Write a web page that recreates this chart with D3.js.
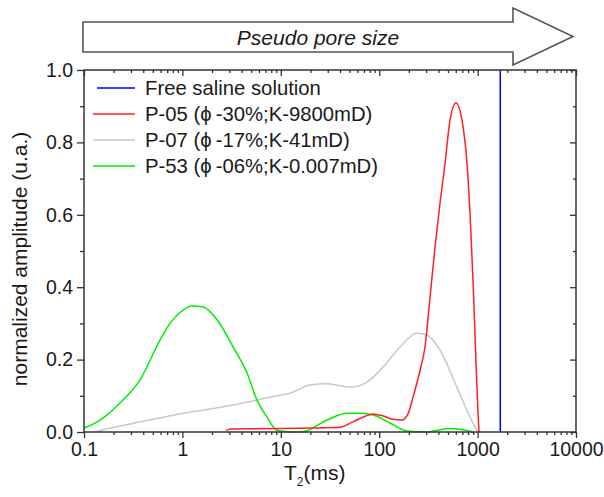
<!DOCTYPE html>
<html>
<head>
<meta charset="utf-8">
<script src="https://cdn.jsdelivr.net/npm/d3@7"></script>
<style>
  html, body { margin: 0; padding: 0; background: #fff; }
  svg { display: block; font-family: "Liberation Sans", Arial, sans-serif; }
</style>
</head>
<body>
<svg id="chart" width="604" height="497"></svg>
<script>
// ---- data ----
const seriesNames = ["Free saline solution", "P-05 (\u03D5\u2009-30%;K-9800mD)", "P-07 (\u03D5\u2009-17%;K-41mD)", "P-53 (\u03D5\u2009-06%;K-0.007mD)"];
const seriesColors = ["#0000ff", "#ff2020", "#c8c8c8", "#00ee00"];

const freeT = [1700, 1700];
const freeA = [0, 1];

const p05T = [2.8, 3.05, 5, 10, 20, 39.8, 54, 70, 86.5, 110, 138, 170, 196, 220, 260, 292, 328, 369, 415, 467, 525, 603, 693, 780, 837, 898, 964, 1010, 1033];
const p05A = [0.004, 0.008, 0.009, 0.01, 0.011, 0.013, 0.028, 0.042, 0.05, 0.044, 0.035, 0.033, 0.05, 0.095, 0.17, 0.235, 0.37, 0.51, 0.632, 0.743, 0.862, 0.909, 0.862, 0.743, 0.605, 0.42, 0.19, 0.052, 0];

const p07T = [0.136, 0.946, 3.05, 9.15, 12.4, 19.8, 29.5, 40, 50.5, 75.2, 110, 163, 242, 306, 415, 616, 837, 1010];
const p07A = [0.003, 0.05, 0.073, 0.1, 0.107, 0.13, 0.133, 0.128, 0.124, 0.138, 0.18, 0.235, 0.273, 0.268, 0.226, 0.124, 0.041, 0.0];

const p53T = [0.1, 0.146, 0.232, 0.371, 0.592, 0.748, 0.946, 1.25, 1.62, 2.25, 3.27, 4.54, 5.73, 7.24, 9.15, 13, 16.8, 29.5, 47, 63.8, 86.5, 129, 190, 300, 415, 512, 711, 900];
const p53A = [0.011, 0.033, 0.08, 0.144, 0.254, 0.30, 0.33, 0.348, 0.345, 0.31, 0.235, 0.163, 0.088, 0.041, 0.005, 0, 0.001, 0.033, 0.052, 0.052, 0.047, 0.025, 0.003, 0, 0.006, 0.01, 0.006, 0];

const xTickValues = [0.1, 1, 10, 100, 1000, 10000];
const xTickLabels = ["0.1", "1", "10", "100", "1000", "10000"];
const yTickValues = [0, 0.2, 0.4, 0.6, 0.8, 1.0];
const yTickLabels = ["0.0", "0.2", "0.4", "0.6", "0.8", "1.0"];
const yMinorValues = [0.1, 0.3, 0.5, 0.7, 0.9];

// ---- layout ----
const L = 84, R = 576, T = 70, B = 432;
const svg = d3.select("#chart");
const x = d3.scaleLog().domain([0.1, 10000]).range([L, R]);
const y = d3.scaleLinear().domain([0, 1]).range([B, T]);

const textColor = "#1a1a1a";
const axisColor = "#333";
const fs = 19.5;

// minor log ticks
const xMinor = [];
for (let e = -1; e < 4; e++) for (let k = 2; k <= 9; k++) xMinor.push(k * Math.pow(10, e));

// ---- arrow header ----
const ax0 = 83, ax1 = 513, aTop = 22, aBot = 52, hTop = 8, hBot = 65, tipX = 573;
const arrowPts = [[ax0, aTop], [ax1, aTop], [ax1, hTop], [tipX, (hTop + hBot) / 2], [ax1, hBot], [ax1, aBot], [ax0, aBot]];
svg.append("path")
  .attr("d", d3.line()(arrowPts) + "Z")
  .attr("fill", "#fff").attr("stroke", "#555").attr("stroke-width", 1.6);
svg.append("text")
  .attr("x", 318).attr("y", 44.5)
  .attr("text-anchor", "middle")
  .attr("font-style", "italic")
  .attr("font-size", 21)
  .attr("fill", textColor)
  .text("Pseudo pore size");

// ---- axes ----
const gx = svg.append("g").attr("transform", `translate(0,${B})`);
gx.call(d3.axisBottom(x).tickValues(xTickValues).tickFormat((d, i) => xTickLabels[i]).tickSize(6).tickPadding(4));
const gxm = svg.append("g").attr("transform", `translate(0,${B})`);
gxm.call(d3.axisBottom(x).tickValues(xMinor).tickFormat("").tickSize(3));

const gxt = svg.append("g").attr("transform", `translate(0,${T})`);
gxt.call(d3.axisTop(x).tickValues(xTickValues).tickFormat("").tickSize(-6));
const gxtm = svg.append("g").attr("transform", `translate(0,${T})`);
gxtm.call(d3.axisTop(x).tickValues(xMinor).tickFormat("").tickSize(-3));

const gy = svg.append("g").attr("transform", `translate(${L},0)`);
gy.call(d3.axisLeft(y).tickValues(yTickValues).tickFormat((d, i) => yTickLabels[i]).tickSize(7).tickPadding(4));
const gym = svg.append("g").attr("transform", `translate(${L},0)`);
gym.call(d3.axisLeft(y).tickValues(yMinorValues).tickFormat("").tickSize(4));

const gyr = svg.append("g").attr("transform", `translate(${R},0)`);
gyr.call(d3.axisRight(y).tickValues(yTickValues).tickFormat("").tickSize(-6));
const gyrm = svg.append("g").attr("transform", `translate(${R},0)`);
gyrm.call(d3.axisRight(y).tickValues(yMinorValues).tickFormat("").tickSize(-3));

svg.selectAll(".domain").remove();
svg.selectAll(".tick line").attr("stroke", axisColor).attr("stroke-width", 1.3);
svg.selectAll(".tick text").attr("fill", textColor).attr("font-size", fs)
  .attr("font-family", "'Liberation Sans', Arial, sans-serif");

// ---- series ----
const line = d3.line().x(d => x(d[0])).y(d => y(d[1])).curve(d3.curveMonotoneX);
const plot = svg.append("g");
function drawSeries(ts, as, color) {
  const pts = ts.map((t, i) => [t, as[i]]);
  plot.append("path").attr("d", line(pts)).attr("fill", "none")
    .attr("stroke", color).attr("stroke-width", 1.5).attr("stroke-linejoin", "round");
}
drawSeries(p07T, p07A, seriesColors[2]);
drawSeries(p53T, p53A, seriesColors[3]);
drawSeries(p05T, p05A, seriesColors[1]);
plot.append("path").attr("d", d3.line().x(d => x(d[0])).y(d => y(d[1]))(freeT.map((t, i) => [t, freeA[i]])))
  .attr("stroke", seriesColors[0]).attr("stroke-width", 1.5).attr("fill", "none");

// frame
svg.append("rect").attr("x", L).attr("y", T).attr("width", R - L).attr("height", B - T)
  .attr("fill", "none").attr("stroke", axisColor).attr("stroke-width", 1.5);

// ---- legend ----
const leg = svg.append("g");
const legY = [88, 114, 140, 166];
seriesNames.forEach((name, i) => {
  leg.append("line").attr("x1", i === 0 ? 97 : 93).attr("x2", 135)
    .attr("y1", legY[i]).attr("y2", legY[i])
    .attr("stroke", seriesColors[i]).attr("stroke-width", 1.5);
  leg.append("text").attr("x", 145).attr("y", legY[i] + 7)
    .attr("font-size", 20.3).attr("fill", textColor).text(name);
});

// ---- axis titles ----
const xt = svg.append("text").attr("x", 284).attr("y", 480).attr("font-size", 21).attr("fill", textColor);
xt.append("tspan").text("T");
xt.append("tspan").attr("font-size", 12).attr("dy", 6).text("2");
xt.append("tspan").attr("dy", -6).text("(ms)");

svg.append("text")
  .attr("transform", `translate(27,${(T + B) / 2 + 8}) rotate(-90)`)
  .attr("text-anchor", "middle").attr("font-size", 21).attr("fill", textColor)
  .text("normalized amplitude (u.a.)");
</script>
</body>
</html>
